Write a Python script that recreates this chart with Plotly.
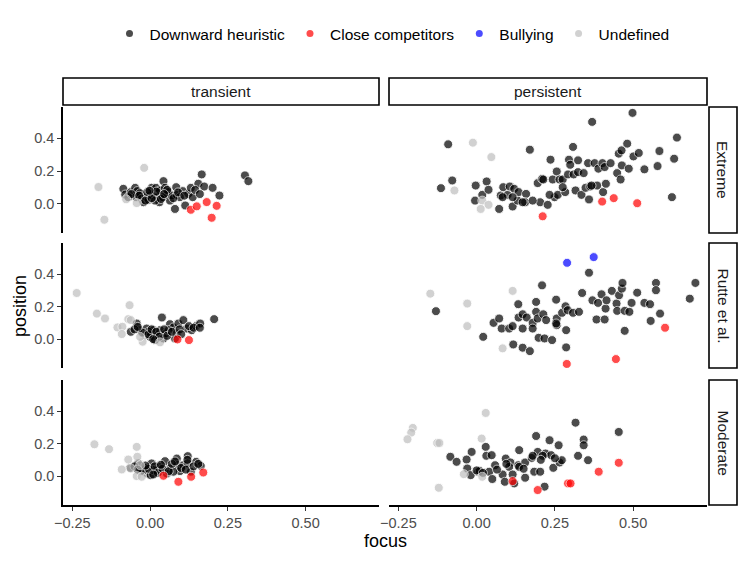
import plotly.graph_objects as go

categories = ["Downward heuristic", "Close competitors", "Bullying", "Undefined"]
cat_colors = ["rgb(0,0,0)", "rgb(255,0,0)", "rgb(0,0,255)", "rgb(190,190,190)"]
col_labels = ["transient", "persistent"]
row_labels = ["Extreme", "Rutte et al.", "Moderate"]
x_ticks = [-0.25, 0.0, 0.25, 0.5]
y_ticks = [0.0, 0.2, 0.4]

# (focus, position) pairs
# transient / Extreme
tr_ext_down = [(-0.086, 0.092), (-0.080, 0.057), (-0.062, 0.072), (-0.048, 0.098), (-0.041, 0.078),
               (-0.045, 0.041), (-0.032, 0.065), (-0.027, 0.031), (-0.021, 0.010), (-0.013, 0.041),
               (-0.005, 0.025), (0.000, 0.051), (0.005, 0.098), (0.011, 0.065), (0.019, 0.098),
               (0.024, 0.041), (0.030, 0.010), (0.032, 0.082), (0.043, 0.139), (0.048, 0.098),
               (0.051, 0.051), (0.059, 0.072), (0.064, 0.020), (0.070, 0.051), (0.084, 0.102),
               (0.086, 0.055), (0.080, -0.031), (0.105, 0.078), (0.113, -0.010), (0.123, 0.061),
               (0.131, 0.098), (0.137, 0.041), (0.155, 0.123), (0.166, 0.180), (0.174, 0.106),
               (0.201, 0.098), (0.223, 0.051), (0.305, 0.174), (0.316, 0.139), (-0.070, 0.041),
               (-0.009, 0.072), (0.016, 0.020), (0.041, 0.041), (0.096, 0.041), (-0.060, 0.060),
               (-0.035, 0.050), (-0.015, 0.020), (0.005, 0.035), (0.020, 0.075), (0.035, 0.030),
               (0.055, 0.085), (0.075, 0.035), (0.090, 0.070), (0.110, 0.050), (0.145, 0.085),
               (0.160, 0.060), (-0.002, 0.080), (0.045, 0.060)]
tr_ext_close = [(0.131, -0.036), (0.150, -0.015), (0.182, 0.011), (0.214, -0.012), (0.198, -0.085)]
tr_ext_bully = []
tr_ext_undef = [(-0.166, 0.103), (-0.019, 0.220), (-0.147, -0.097), (-0.077, 0.028), (-0.043, 0.005)]

# persistent / Extreme
pe_ext_down = [(-0.091, 0.364), (-0.114, 0.096), (-0.078, 0.143), (-0.005, 0.020), (-0.003, 0.112),
               (0.018, 0.055), (0.032, 0.137), (0.038, 0.086), (0.072, -0.031), (0.077, 0.051),
               (0.085, 0.102), (0.099, 0.055), (0.106, 0.106), (0.120, 0.092), (0.115, -0.016),
               (0.131, 0.020), (0.134, 0.072), (0.158, 0.061), (0.155, 0.010), (0.170, 0.331),
               (0.195, 0.127), (0.203, 0.010), (0.209, 0.153), (0.227, -0.006), (0.236, 0.270),
               (0.243, 0.149), (0.249, 0.041), (0.256, 0.198), (0.259, 0.055), (0.265, 0.149),
               (0.275, 0.149), (0.283, 0.072), (0.292, 0.180), (0.295, 0.270), (0.299, 0.239),
               (0.308, 0.348), (0.310, 0.180), (0.316, 0.082), (0.324, 0.194), (0.335, 0.055),
               (0.342, 0.188), (0.348, 0.098), (0.356, 0.249), (0.359, 0.027), (0.363, 0.106),
               (0.369, 0.501), (0.377, 0.249), (0.385, 0.112), (0.389, 0.215), (0.402, 0.249),
               (0.404, 0.072), (0.409, 0.225), (0.413, 0.123), (0.428, 0.249), (0.449, 0.188),
               (0.454, 0.307), (0.460, 0.149), (0.464, 0.235), (0.463, 0.327), (0.481, 0.368),
               (0.486, 0.215), (0.498, 0.556), (0.501, 0.290), (0.518, 0.311), (0.536, 0.211),
               (0.578, 0.231), (0.584, 0.323), (0.624, 0.041), (0.631, 0.276), (0.640, 0.405),
               (0.367, 0.112), (0.324, 0.266), (0.275, 0.102), (0.213, 0.149), (0.233, 0.055),
               (0.179, 0.020), (0.147, 0.010), (0.115, 0.041), (0.083, 0.041)]
pe_ext_close = [(0.211, -0.076), (0.401, 0.014), (0.438, 0.035), (0.513, 0.004)]
pe_ext_bully = []
pe_ext_undef = [(-0.012, 0.374), (0.047, 0.286), (-0.071, 0.082), (0.018, 0.020), (0.038, -0.006),
                (0.013, -0.031)]

# transient / Rutte et al.
tr_rut_down = [(-0.043, 0.096), (-0.062, 0.045), (-0.032, 0.055), (-0.011, 0.065), (-0.016, 0.025),
               (0.000, 0.014), (0.011, 0.055), (0.021, 0.025), (0.038, 0.133), (0.032, 0.055),
               (0.043, 0.004), (0.051, 0.035), (0.064, 0.092), (0.075, 0.072), (0.086, 0.035),
               (0.091, 0.096), (0.107, 0.117), (0.118, 0.065), (0.134, 0.055), (0.148, 0.080),
               (0.161, 0.096), (0.206, 0.123), (0.080, 0.004), (-0.005, 0.045), (0.059, 0.055),
               (0.016, -0.006), (-0.050, 0.060), (-0.025, 0.040), (-0.005, 0.030), (0.005, 0.060),
               (0.020, 0.045), (0.030, 0.015), (0.045, 0.060), (0.055, 0.020), (0.070, 0.045),
               (0.095, 0.060), (0.100, 0.030), (0.125, 0.080), (0.140, 0.070), (0.160, 0.070),
               (0.010, 0.000), (-0.040, 0.075)]
tr_rut_close = [(0.088, -0.002), (0.125, -0.006)]
tr_rut_bully = []
tr_rut_undef = [(-0.236, 0.284), (-0.171, 0.157), (-0.145, 0.127), (-0.105, 0.072), (-0.089, 0.076),
                (-0.091, 0.031), (-0.066, 0.209), (-0.070, 0.123), (-0.062, 0.117), (-0.024, -0.016),
                (0.032, -0.020), (-0.032, 0.014)]

# persistent / Rutte et al.
pe_rut_down = [(-0.130, 0.172), (0.021, 0.014), (0.054, 0.100), (0.072, 0.127), (0.080, 0.065),
               (0.104, 0.065), (0.117, -0.033), (0.133, 0.215), (0.134, 0.133), (0.147, 0.153),
               (0.147, 0.065), (0.147, -0.053), (0.160, 0.133), (0.170, -0.074), (0.179, 0.100),
               (0.190, 0.229), (0.190, 0.168), (0.195, 0.127), (0.198, 0.008), (0.209, 0.331),
               (0.213, 0.153), (0.217, 0.004), (0.222, 0.117), (0.241, -0.006), (0.254, 0.243),
               (0.256, 0.127), (0.256, 0.086), (0.273, 0.162), (0.284, 0.202), (0.286, 0.055),
               (0.286, -0.051), (0.291, 0.178), (0.308, 0.162), (0.327, 0.168), (0.337, 0.284),
               (0.359, 0.409), (0.370, 0.239), (0.383, 0.121), (0.388, 0.223), (0.399, 0.276),
               (0.409, 0.121), (0.412, 0.188), (0.415, 0.239), (0.432, 0.297), (0.447, 0.219),
               (0.449, 0.174), (0.455, 0.270), (0.464, 0.311), (0.466, 0.346), (0.473, 0.174),
               (0.473, 0.051), (0.488, 0.168), (0.495, 0.223), (0.513, 0.286), (0.536, 0.223),
               (0.554, 0.215), (0.556, 0.112), (0.573, 0.346), (0.573, 0.301), (0.586, 0.157),
               (0.681, 0.249), (0.699, 0.346), (0.115, 0.080), (0.179, 0.065), (0.254, 0.096)]
pe_rut_close = [(0.288, -0.153), (0.445, -0.123), (0.602, 0.070)]
pe_rut_bully = [(0.289, 0.470), (0.374, 0.505)]
pe_rut_undef = [(-0.148, 0.280), (-0.030, 0.219), (-0.030, 0.080), (0.115, 0.297), (0.083, -0.057)]

# transient / Moderate
tr_mod_down = [(-0.038, 0.078), (-0.064, 0.051), (-0.013, 0.051), (-0.009, 0.016), (0.005, 0.078),
               (0.002, 0.006), (0.021, 0.037), (0.030, 0.057), (0.048, 0.092), (0.064, 0.047),
               (0.086, 0.108), (0.088, 0.067), (0.096, 0.031), (0.107, 0.067), (0.121, 0.123),
               (0.121, 0.078), (0.131, 0.027), (0.148, 0.088), (0.163, 0.063), (-0.021, 0.037),
               (0.011, 0.037), (0.054, 0.016), (0.075, 0.027), (-0.050, 0.060), (-0.030, 0.030),
               (-0.005, 0.045), (0.015, 0.060), (0.025, 0.020), (0.040, 0.045), (0.060, 0.030),
               (0.070, 0.075), (0.100, 0.050), (0.115, 0.040), (0.140, 0.060), (0.155, 0.075),
               (-0.015, 0.065), (0.035, 0.070), (0.080, 0.090), (0.120, 0.100), (0.010, 0.010),
               (-0.040, 0.040)]
tr_mod_close = [(0.091, -0.035), (0.132, -0.004), (0.171, 0.022), (0.043, 0.002)]
tr_mod_bully = []
tr_mod_undef = [(-0.179, 0.196), (-0.132, 0.166), (-0.043, 0.180), (-0.041, 0.119), (-0.070, 0.102),
                (-0.091, 0.041), (-0.062, 0.047), (-0.043, 0.000), (-0.027, -0.004), (-0.032, 0.067)]

# persistent / Moderate
pe_mod_down = [(-0.084, 0.119), (-0.064, 0.088), (-0.032, 0.102), (-0.030, 0.047), (-0.016, 0.149),
               (-0.019, 0.006), (0.005, 0.027), (0.010, 0.031), (0.029, 0.180), (0.031, 0.125),
               (0.040, 0.027), (0.048, 0.129), (0.050, -0.018), (0.059, 0.067), (0.083, 0.010),
               (0.090, -0.035), (0.093, 0.108), (0.108, 0.084), (0.104, 0.057), (0.120, -0.045),
               (0.133, 0.067), (0.136, 0.160), (0.155, 0.084), (0.155, -0.010), (0.176, 0.112),
               (0.184, 0.027), (0.190, 0.247), (0.195, 0.149), (0.203, 0.027), (0.217, -0.065),
               (0.220, 0.139), (0.233, 0.221), (0.238, 0.129), (0.245, 0.051), (0.262, 0.190),
               (0.265, 0.084), (0.272, 0.098), (0.316, 0.329), (0.324, 0.125), (0.342, 0.225),
               (0.342, 0.190), (0.356, 0.098), (0.454, 0.272), (0.179, 0.125), (0.211, 0.125),
               (0.136, 0.057), (0.000, 0.035), (0.020, 0.020), (0.065, 0.040), (0.095, 0.075),
               (0.115, 0.010), (0.150, 0.045), (0.205, 0.100), (0.250, 0.110)]
pe_mod_close = [(0.195, -0.086), (0.292, -0.045), (0.300, -0.045), (0.390, 0.027), (0.454, 0.082),
                (0.115, -0.031)]
pe_mod_bully = []
pe_mod_undef = [(-0.204, 0.297), (-0.209, 0.268), (-0.221, 0.227), (-0.126, 0.204), (-0.119, 0.204),
                (0.029, 0.389), (0.016, 0.231), (-0.121, -0.072), (-0.041, 0.012), (0.018, -0.004)]

panels = [
    [(tr_ext_down, tr_ext_close, tr_ext_bully, tr_ext_undef),
     (pe_ext_down, pe_ext_close, pe_ext_bully, pe_ext_undef)],
    [(tr_rut_down, tr_rut_close, tr_rut_bully, tr_rut_undef),
     (pe_rut_down, pe_rut_close, pe_rut_bully, pe_rut_undef)],
    [(tr_mod_down, tr_mod_close, tr_mod_bully, tr_mod_undef),
     (pe_mod_down, pe_mod_close, pe_mod_bully, pe_mod_undef)],
]

# page body adds an 8px offset; positions below are in screenshot pixels
OFF = 8
W, H = 747, 561
ML, MR, MT, MB = 63 - OFF, 48, 78 - OFF, 64
pw, ph = W - ML - MR, H - MT - MB

def px_x(p):
    return (p - OFF - ML) / pw

def px_y(p):
    return (H - MB - (p - OFF)) / ph

col_dom = [[px_x(63), px_x(379)], [px_x(389), px_x(707)]]
row_dom = [[px_y(233), px_y(107)], [px_y(368), px_y(243)], [px_y(505), px_y(380)]]
x_range = [-0.28, 0.736]
y_range = [-0.178, 0.592]

fig = go.Figure()
layout = {}
FONT = "Liberation Sans, Arial, sans-serif"
tick_font = dict(family=FONT, size=14.5, color="#4d4d4d")

for r in range(3):
    for c in range(2):
        n = r * 2 + c + 1
        xa = "x" if n == 1 else "x%d" % n
        ya = "y" if n == 1 else "y%d" % n
        for k, pts in enumerate(panels[r][c]):
            if not pts:
                continue
            fig.add_trace(go.Scatter(
                x=[p[0] for p in pts], y=[p[1] for p in pts],
                mode="markers", xaxis=xa, yaxis=ya, showlegend=False,
                name=categories[k], hoverinfo="skip",
                marker=dict(size=9, color=cat_colors[k], opacity=0.7,
                            line=dict(color="white", width=0.9))))
        bottom = r == 2
        left = c == 0
        layout["xaxis" if n == 1 else "xaxis%d" % n] = dict(
            domain=col_dom[c], range=x_range, anchor=ya,
            showgrid=False, zeroline=False,
            showline=bottom, linecolor="black", linewidth=1.6,
            ticks="outside" if bottom else "", ticklen=4, tickwidth=1.2, tickcolor="#333333",
            tickvals=x_ticks, tickformat=".2f", showticklabels=bottom,
            tickfont=tick_font)
        layout["yaxis" if n == 1 else "yaxis%d" % n] = dict(
            domain=row_dom[r], range=y_range, anchor=xa,
            showgrid=False, zeroline=False,
            showline=left, linecolor="black", linewidth=1.6,
            ticks="outside" if left else "", ticklen=4, tickwidth=1.2, tickcolor="#333333",
            tickvals=y_ticks, tickformat=".1f", showticklabels=left,
            tickfont=tick_font)

# legend entries with smaller keys
for k, cat in enumerate(categories):
    fig.add_trace(go.Scatter(
        x=[None], y=[None], mode="markers", name=cat, showlegend=True,
        marker=dict(size=7, color=cat_colors[k], opacity=0.7)))

shapes = []
annotations = []
strip_font = dict(family=FONT, size=15.5, color="#1a1a1a")
for c, lab in enumerate(col_labels):
    shapes.append(dict(type="rect", xref="paper", yref="paper",
                       x0=col_dom[c][0], x1=col_dom[c][1], y0=px_y(105), y1=px_y(78),
                       line=dict(color="black", width=1.6), fillcolor="white"))
    annotations.append(dict(text=lab, xref="paper", yref="paper", showarrow=False,
                            x=sum(col_dom[c]) / 2, y=px_y(91.5), xanchor="center",
                            yanchor="middle", font=strip_font))
for r, lab in enumerate(row_labels):
    shapes.append(dict(type="rect", xref="paper", yref="paper",
                       x0=px_x(709), x1=px_x(737), y0=row_dom[r][0], y1=row_dom[r][1],
                       line=dict(color="black", width=1.6), fillcolor="white"))
    annotations.append(dict(text=lab, xref="paper", yref="paper", showarrow=False,
                            x=px_x(723), y=sum(row_dom[r]) / 2, xanchor="center",
                            yanchor="middle", textangle=90, font=strip_font))

title_font = dict(family=FONT, size=18, color="black")
annotations.append(dict(text="focus", xref="paper", yref="paper", showarrow=False,
                        x=px_x(385), y=px_y(541), xanchor="center", yanchor="middle",
                        font=title_font))
annotations.append(dict(text="position", xref="paper", yref="paper", showarrow=False,
                        x=px_x(20), y=px_y(306), xanchor="center", yanchor="middle",
                        textangle=-90, font=title_font))

fig.update_layout(
    **layout,
    width=W, height=H,
    margin=dict(l=ML, r=MR, t=MT, b=MB, autoexpand=False),
    paper_bgcolor="white", plot_bgcolor="white",
    font=dict(family=FONT),
    shapes=shapes, annotations=annotations,
    legend=dict(orientation="h", x=px_x(392), xanchor="center", y=px_y(34), yanchor="middle",
                font=dict(size=15.5, color="black"), bgcolor="rgba(0,0,0,0)",
                itemwidth=30, tracegroupgap=0),
)

fig.write_html("out.html")
